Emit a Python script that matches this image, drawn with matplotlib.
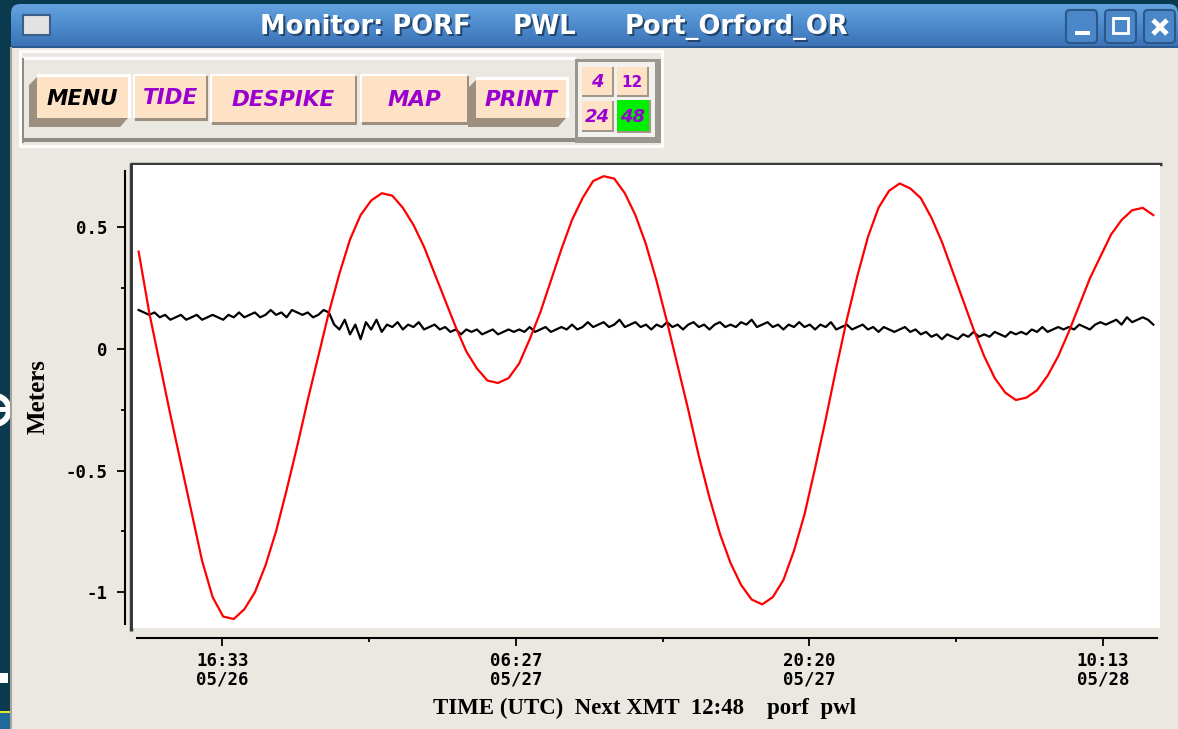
import numpy as np
import pandas as pd
import matplotlib
matplotlib.use('Agg')
import matplotlib.pyplot as plt
import matplotlib.dates as mdates
from matplotlib.patches import Rectangle, Polygon, FancyBboxPatch, Wedge
from matplotlib.colors import LinearSegmentedColormap

# water level (m), one reading every 30 min
pwl_start = '2011-05-26 12:36'
pwl = [0.40, 0.15, -0.06, -0.27, -0.47, -0.67, -0.87, -1.02, -1.10, -1.11,
       -1.07, -1.00, -0.89, -0.75, -0.58, -0.40, -0.21, -0.03, 0.15, 0.31,
       0.45, 0.55, 0.61, 0.64, 0.63, 0.58, 0.51, 0.42, 0.31, 0.20,
       0.09, -0.01, -0.08, -0.13, -0.14, -0.12, -0.06, 0.04, 0.15, 0.28,
       0.41, 0.53, 0.62, 0.69, 0.71, 0.70, 0.64, 0.55, 0.43, 0.28,
       0.11, -0.07, -0.25, -0.44, -0.61, -0.76, -0.88, -0.97, -1.03, -1.05,
       -1.02, -0.95, -0.83, -0.68, -0.49, -0.29, -0.08, 0.12, 0.30, 0.46,
       0.58, 0.65, 0.68, 0.66, 0.62, 0.54, 0.44, 0.32, 0.20, 0.08,
       -0.03, -0.12, -0.18, -0.21, -0.20, -0.17, -0.11, -0.03, 0.07, 0.18,
       0.29, 0.38, 0.47, 0.53, 0.57, 0.58, 0.55]

# second trace (m), one reading every 15 min
res_start = '2011-05-26 12:36'
res = [0.16, 0.15, 0.14, 0.15, 0.13, 0.14, 0.12, 0.13,
       0.14, 0.12, 0.13, 0.14, 0.12, 0.13, 0.14, 0.13,
       0.12, 0.14, 0.13, 0.15, 0.13, 0.14, 0.15, 0.13,
       0.14, 0.16, 0.14, 0.15, 0.13, 0.16, 0.15, 0.14,
       0.15, 0.13, 0.14, 0.16, 0.15, 0.10, 0.08, 0.12,
       0.06, 0.10, 0.04, 0.11, 0.08, 0.12, 0.07, 0.10,
       0.09, 0.11, 0.08, 0.10, 0.09, 0.11, 0.08, 0.09,
       0.10, 0.08, 0.09, 0.07, 0.08, 0.06, 0.08, 0.07,
       0.08, 0.06, 0.07, 0.08, 0.06, 0.07, 0.08, 0.07,
       0.08, 0.07, 0.09, 0.07, 0.08, 0.09, 0.07, 0.08,
       0.09, 0.08, 0.10, 0.08, 0.09, 0.11, 0.09, 0.10,
       0.11, 0.09, 0.10, 0.12, 0.09, 0.10, 0.11, 0.09,
       0.10, 0.08, 0.10, 0.09, 0.11, 0.09, 0.10, 0.08,
       0.10, 0.11, 0.09, 0.10, 0.08, 0.10, 0.11, 0.09,
       0.10, 0.09, 0.11, 0.10, 0.12, 0.09, 0.10, 0.11,
       0.09, 0.10, 0.08, 0.10, 0.09, 0.11, 0.09, 0.10,
       0.08, 0.10, 0.09, 0.11, 0.08, 0.09, 0.10, 0.08,
       0.09, 0.10, 0.08, 0.09, 0.07, 0.09, 0.08, 0.07,
       0.08, 0.09, 0.07, 0.08, 0.06, 0.07, 0.05, 0.06,
       0.04, 0.06, 0.05, 0.04, 0.06, 0.05, 0.07, 0.05,
       0.06, 0.05, 0.07, 0.06, 0.05, 0.07, 0.06, 0.07,
       0.06, 0.08, 0.07, 0.09, 0.07, 0.08, 0.09, 0.08,
       0.09, 0.08, 0.10, 0.09, 0.08, 0.10, 0.11, 0.10,
       0.11, 0.12, 0.10, 0.13, 0.11, 0.12, 0.13, 0.12,
       0.10]

major_ticks = ['2011-05-26 16:33', '2011-05-27 06:27', '2011-05-27 20:20', '2011-05-28 10:13']
minor_ticks = ['2011-05-26 23:30', '2011-05-27 13:23', '2011-05-28 03:16']
y_major = [0.5, 0, -0.5, -1]
y_minor = [0.25, -0.25, -0.75]

buttons = ['MENU', 'TIDE', 'DESPIKE', 'MAP', 'PRINT']
spans = ['4', '12', '24', '48']
title_parts = ['Monitor: PORF', 'PWL', 'Port_Orford_OR']
xlabel = 'TIME (UTC)  Next XMT  12:48    porf  pwl'

pwl_t = pd.date_range(pwl_start, periods=len(pwl), freq='30min')
res_t = pd.date_range(res_start, periods=len(res), freq='15min')

plt.rcParams['font.family'] = ['DejaVu Sans Mono']
plt.rcParams['font.weight'] = 'bold'

W, H = 1178, 729
fig = plt.figure(figsize=(W / 100, H / 100), dpi=100)
fig.patch.set_facecolor('#0a3a4d')

# window chrome drawn in pixel coordinates
bg = fig.add_axes([0, 0, 1, 1], zorder=0)
bg.axis('off')


def box(x0, y0, x1, y1, color, **kw):
    bg.add_patch(Rectangle((x0, y0), x1 - x0, y1 - y0, facecolor=color,
                           edgecolor=kw.pop('ec', 'none'), **kw))


# desktop showing at the left edge
box(0, 0, W, H, '#0a3a4d')
bg.add_patch(Wedge((-5, 410), 17, 0, 360, width=6, facecolor='white', edgecolor='none'))
box(-5, 407, 12, 412, 'white')
box(0, 673, 8, 683, 'white')
box(0, 712, 11, H, '#1f6a98')
box(0, 711, 11, 713, '#e4e432')

# title bar
tb = FancyBboxPatch((11, 4), W - 11, 60, boxstyle='round,pad=0,rounding_size=9',
                    facecolor='none', edgecolor='none')
bg.add_patch(tb)
grad = np.linspace(0, 1, 64).reshape(-1, 1)
tb_cmap = LinearSegmentedColormap.from_list('tb', ['#64a3df', '#4c8acc', '#3a71b4'])
im = bg.imshow(grad, extent=(11, W, 48, 4), aspect='auto', cmap=tb_cmap,
               origin='upper', zorder=1)
im.set_clip_path(tb)
box(11, 46, W, 48, '#2d5b90')

box(23, 15, 50, 35, '#e2e2e2', ec='#3c5f8a', lw=1.5)
for x0 in [1066, 1105, 1144]:
    bg.add_patch(FancyBboxPatch((x0, 10), 31, 33, boxstyle='round,pad=0,rounding_size=4',
                                facecolor='#4a87c9', edgecolor='#2c5789', lw=1.5))
box(1075, 31, 1090, 35, 'white')
bg.add_patch(Rectangle((1113, 18), 15, 15, facecolor='none', edgecolor='white', lw=2))
box(1113, 17, 1128, 20, 'white')
bg.plot([1153, 1167], [20, 34], color='white', lw=3.5, solid_capstyle='butt')
bg.plot([1153, 1167], [34, 20], color='white', lw=3.5, solid_capstyle='butt')

for txt, x in zip(title_parts, [260, 513, 625]):
    bg.text(x + 1.5, 28.5, txt, color='#24466e', fontsize=18.5, family='DejaVu Sans',
            weight='bold', va='center', ha='left')
    bg.text(x, 27, txt, color='white', fontsize=18.5, family='DejaVu Sans',
            weight='bold', va='center', ha='left')

# window body
box(11, 48, W, H, '#ebe8e1')
bg.plot([11, 11], [48, H], color='#a7a39b', lw=1.5)

# toolbar frame
bg.add_patch(Rectangle((20, 51), 642, 95, facecolor='none', edgecolor='white', lw=2))
box(23, 57, 576, 60, 'white')
box(22, 58, 24, 143, '#8e8b85')
box(22, 138, 576, 142, '#8e8b85')

btn_face = '#fde2c6'
btn_dark = '#9c8f80'
# (x0, y0, x1, y1, raised)
btn_geom = [(37, 77, 128, 118, True), (135, 76, 206, 118, False),
            (212, 76, 355, 122, False), (362, 76, 467, 122, False),
            (476, 80, 566, 118, True)]
btn_color = ['black', '#9a00d0', '#9a00d0', '#9a00d0', '#9a00d0']
for name, (x0, y0, x1, y1, raised), c in zip(buttons, btn_geom, btn_color):
    if raised:
        bg.add_patch(Polygon([(x0, y0), (x0 - 8, y0 + 8), (x0 - 8, y1 + 9),
                              (x1 - 8, y1 + 9), (x1, y1)], closed=True,
                             facecolor=btn_dark, edgecolor='none'))
        box(x0, y0 - 3, x1 + 3, y0, 'white')
        box(x1, y0 - 3, x1 + 3, y1, 'white')
    else:
        box(x0 - 2, y0 - 2, x1, y0, 'white')
        box(x0 - 2, y0 - 2, x0, y1, 'white')
        box(x0, y1, x1 + 2, y1 + 3, btn_dark)
        box(x1, y0, x1 + 2, y1 + 3, btn_dark)
    box(x0, y0, x1, y1, btn_face)
    bg.text((x0 + x1) / 2, (y0 + y1) / 2 + 1, name, color=c, fontsize=15.5,
            family='DejaVu Sans', weight='bold', style='oblique', ha='center', va='center')

# time span selector
box(575, 59, 661, 143, '#9b978f')
box(578, 62, 655, 137, '#f3f1ed')
span_geom = [(582, 67, 612, 95), (617, 67, 647, 95), (582, 101, 612, 130), (617, 100, 649, 131)]
for s, (x0, y0, x1, y1) in zip(spans, span_geom):
    face = '#00ee00' if s == '48' else btn_face
    box(x0, y0, x1 + 2, y1 + 2, '#a09888')
    box(x0, y0, x1, y1, face)
    bg.text((x0 + x1) / 2, (y0 + y1) / 2 + 1, s, color='#9a00d0',
            fontsize=11 if s == '12' else 13, family='DejaVu Sans', weight='bold',
            style='normal' if s == '12' else 'oblique', ha='center', va='center')

# plot frame
bg.plot([130, 1162], [164, 164], color='#3a3a3a', lw=2.5, solid_capstyle='butt')
bg.plot([131, 131], [163, 631], color='#3a3a3a', lw=2.5, solid_capstyle='butt')

bg.text(38, 397, 'Meters', rotation=90, family='Liberation Serif', weight='bold',
        fontsize=18, ha='center', va='center')
bg.text(645, 708, xlabel, family='Liberation Serif', weight='bold',
        fontsize=16.5, ha='center', va='center')

bg.set_xlim(0, W)
bg.set_ylim(H, 0)

# data axes
ax = fig.add_axes([133 / W, (H - 628) / H, 1027 / W, 463 / H], zorder=2)
ax.set_facecolor('white')
ax.plot(res_t, res, color='black', lw=1.6)
ax.plot(pwl_t, pwl, color='red', lw=1.6)

ax.set_xlim(pd.Timestamp('2011-05-26 12:20'), pd.Timestamp('2011-05-28 12:55'))
ax.set_ylim(-1.147, 0.756)

for side in ['top', 'right']:
    ax.spines[side].set_visible(False)
ax.spines['left'].set_position(('outward', 5.8))
ax.spines['left'].set_bounds(-1.130, 0.732)
ax.spines['bottom'].set_position(('outward', 7.2))
ax.spines['bottom'].set_bounds(mdates.date2num(pd.Timestamp('2011-05-26 12:32')),
                               mdates.date2num(pd.Timestamp('2011-05-28 12:46')))
for side in ['left', 'bottom']:
    ax.spines[side].set_linewidth(1.5)

major_dt = pd.to_datetime(major_ticks)
ax.set_xticks(major_dt, labels=[d.strftime('%H:%M\n%m/%d') for d in major_dt])
ax.set_xticks(pd.to_datetime(minor_ticks), minor=True)
ax.set_yticks(y_major, labels=[f'{v:g}' for v in y_major])
ax.set_yticks(y_minor, minor=True)

ax.tick_params(axis='both', which='major', length=5.8, width=1.3, labelsize=12.5)
ax.tick_params(axis='both', which='minor', length=3.2, width=1.3)
ax.tick_params(axis='y', pad=6.5)
ax.tick_params(axis='x', pad=4)
for t in ax.get_xticklabels():
    t.set_linespacing(1.05)

fig.savefig('out.png', dpi=100, facecolor=fig.get_facecolor())
